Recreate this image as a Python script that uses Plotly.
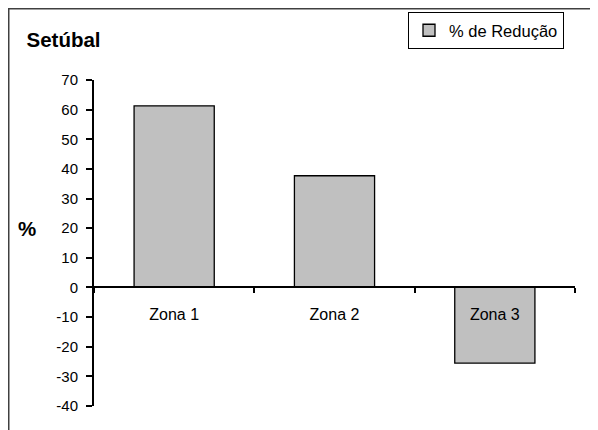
import plotly.graph_objects as go

categories = ["Zona 1", "Zona 2", "Zona 3"]
reducao = [61.3, 37.7, -25.5]
y_ticks = [70, 60, 50, 40, 30, 20, 10, 0, -10, -20, -30, -40]
series_name = "% de Redução"
title_text = "Setúbal"
y_label = "%"

FONT = "Arial, Liberation Sans, sans-serif"
OFF = 8  # page body margin offset
W, H = 598, 430
# plot area in page pixels: x 94..575, y 80..405.7
L = 94 - OFF
R = W - (575 - OFF)
T = 80 - OFF
B = round(H - (405.7 - OFF))
pw, ph = W - L - R, H - T - B

def px_x(px):
    return (px - OFF - L) / pw

def px_y(py):
    return (H - B - (py - OFF)) / ph

fig = go.Figure()
fig.add_trace(go.Bar(
    x=categories, y=reducao, name=series_name,
    width=0.5,
    marker=dict(color="#C0C0C0", line=dict(color="#000000", width=1.3)),
    showlegend=True,
))

ymin, ymax = -40, 70
fig.update_layout(
    width=W, height=H,
    margin=dict(l=L, r=R, t=T, b=B, pad=0, autoexpand=False),
    paper_bgcolor="white", plot_bgcolor="white",
    font=dict(family=FONT, color="black", size=15),
    showlegend=True,
    title=dict(text="<b>" + title_text + "</b>", x=(26.5 - OFF) / W, xref="container",
               y=1 - (40 - OFF) / H, yref="container", xanchor="left", yanchor="middle",
               font=dict(family=FONT, size=20.5, color="black")),
    legend=dict(x=px_x(564), y=px_y(12), xanchor="right", yanchor="top",
                bordercolor="#000000", borderwidth=1, bgcolor="white",
                font=dict(family=FONT, size=16.5, color="black"),
                itemwidth=30, tracegroupgap=0),
    xaxis=dict(
        type="category", range=[-0.5, 2.5],
        anchor="free", position=(0 - ymin) / (ymax - ymin),
        showline=True, linecolor="black", linewidth=2,
        ticks="outside", tickson="boundaries", ticklen=5, tickwidth=2, tickcolor="black",
        ticklabelstandoff=12,
        tickfont=dict(family=FONT, size=16, color="black"),
        showgrid=False, zeroline=False,
    ),
    yaxis=dict(
        range=[ymin, ymax], tickvals=y_ticks, ticktext=[str(v) for v in y_ticks],
        showline=True, linecolor="black", linewidth=2,
        ticks="outside", ticklen=6, tickwidth=2, tickcolor="black",
        ticklabelstandoff=5,
        tickfont=dict(family=FONT, size=15, color="black"),
        showgrid=False, zeroline=False,
    ),
)

fig.add_annotation(
    text="<b>" + y_label + "</b>", xref="paper", yref="paper",
    x=px_x(27), y=px_y(228), xanchor="center", yanchor="middle", showarrow=False,
    font=dict(family=FONT, size=20.5, color="black"),
)

fig.add_shape(type="rect", xref="paper", yref="paper",
              x0=px_x(8.75), y0=px_y(450), x1=px_x(640), y1=px_y(8.75),
              line=dict(color="#404040", width=1.5), fillcolor="rgba(0,0,0,0)", layer="below")

fig.write_html("out.html")
